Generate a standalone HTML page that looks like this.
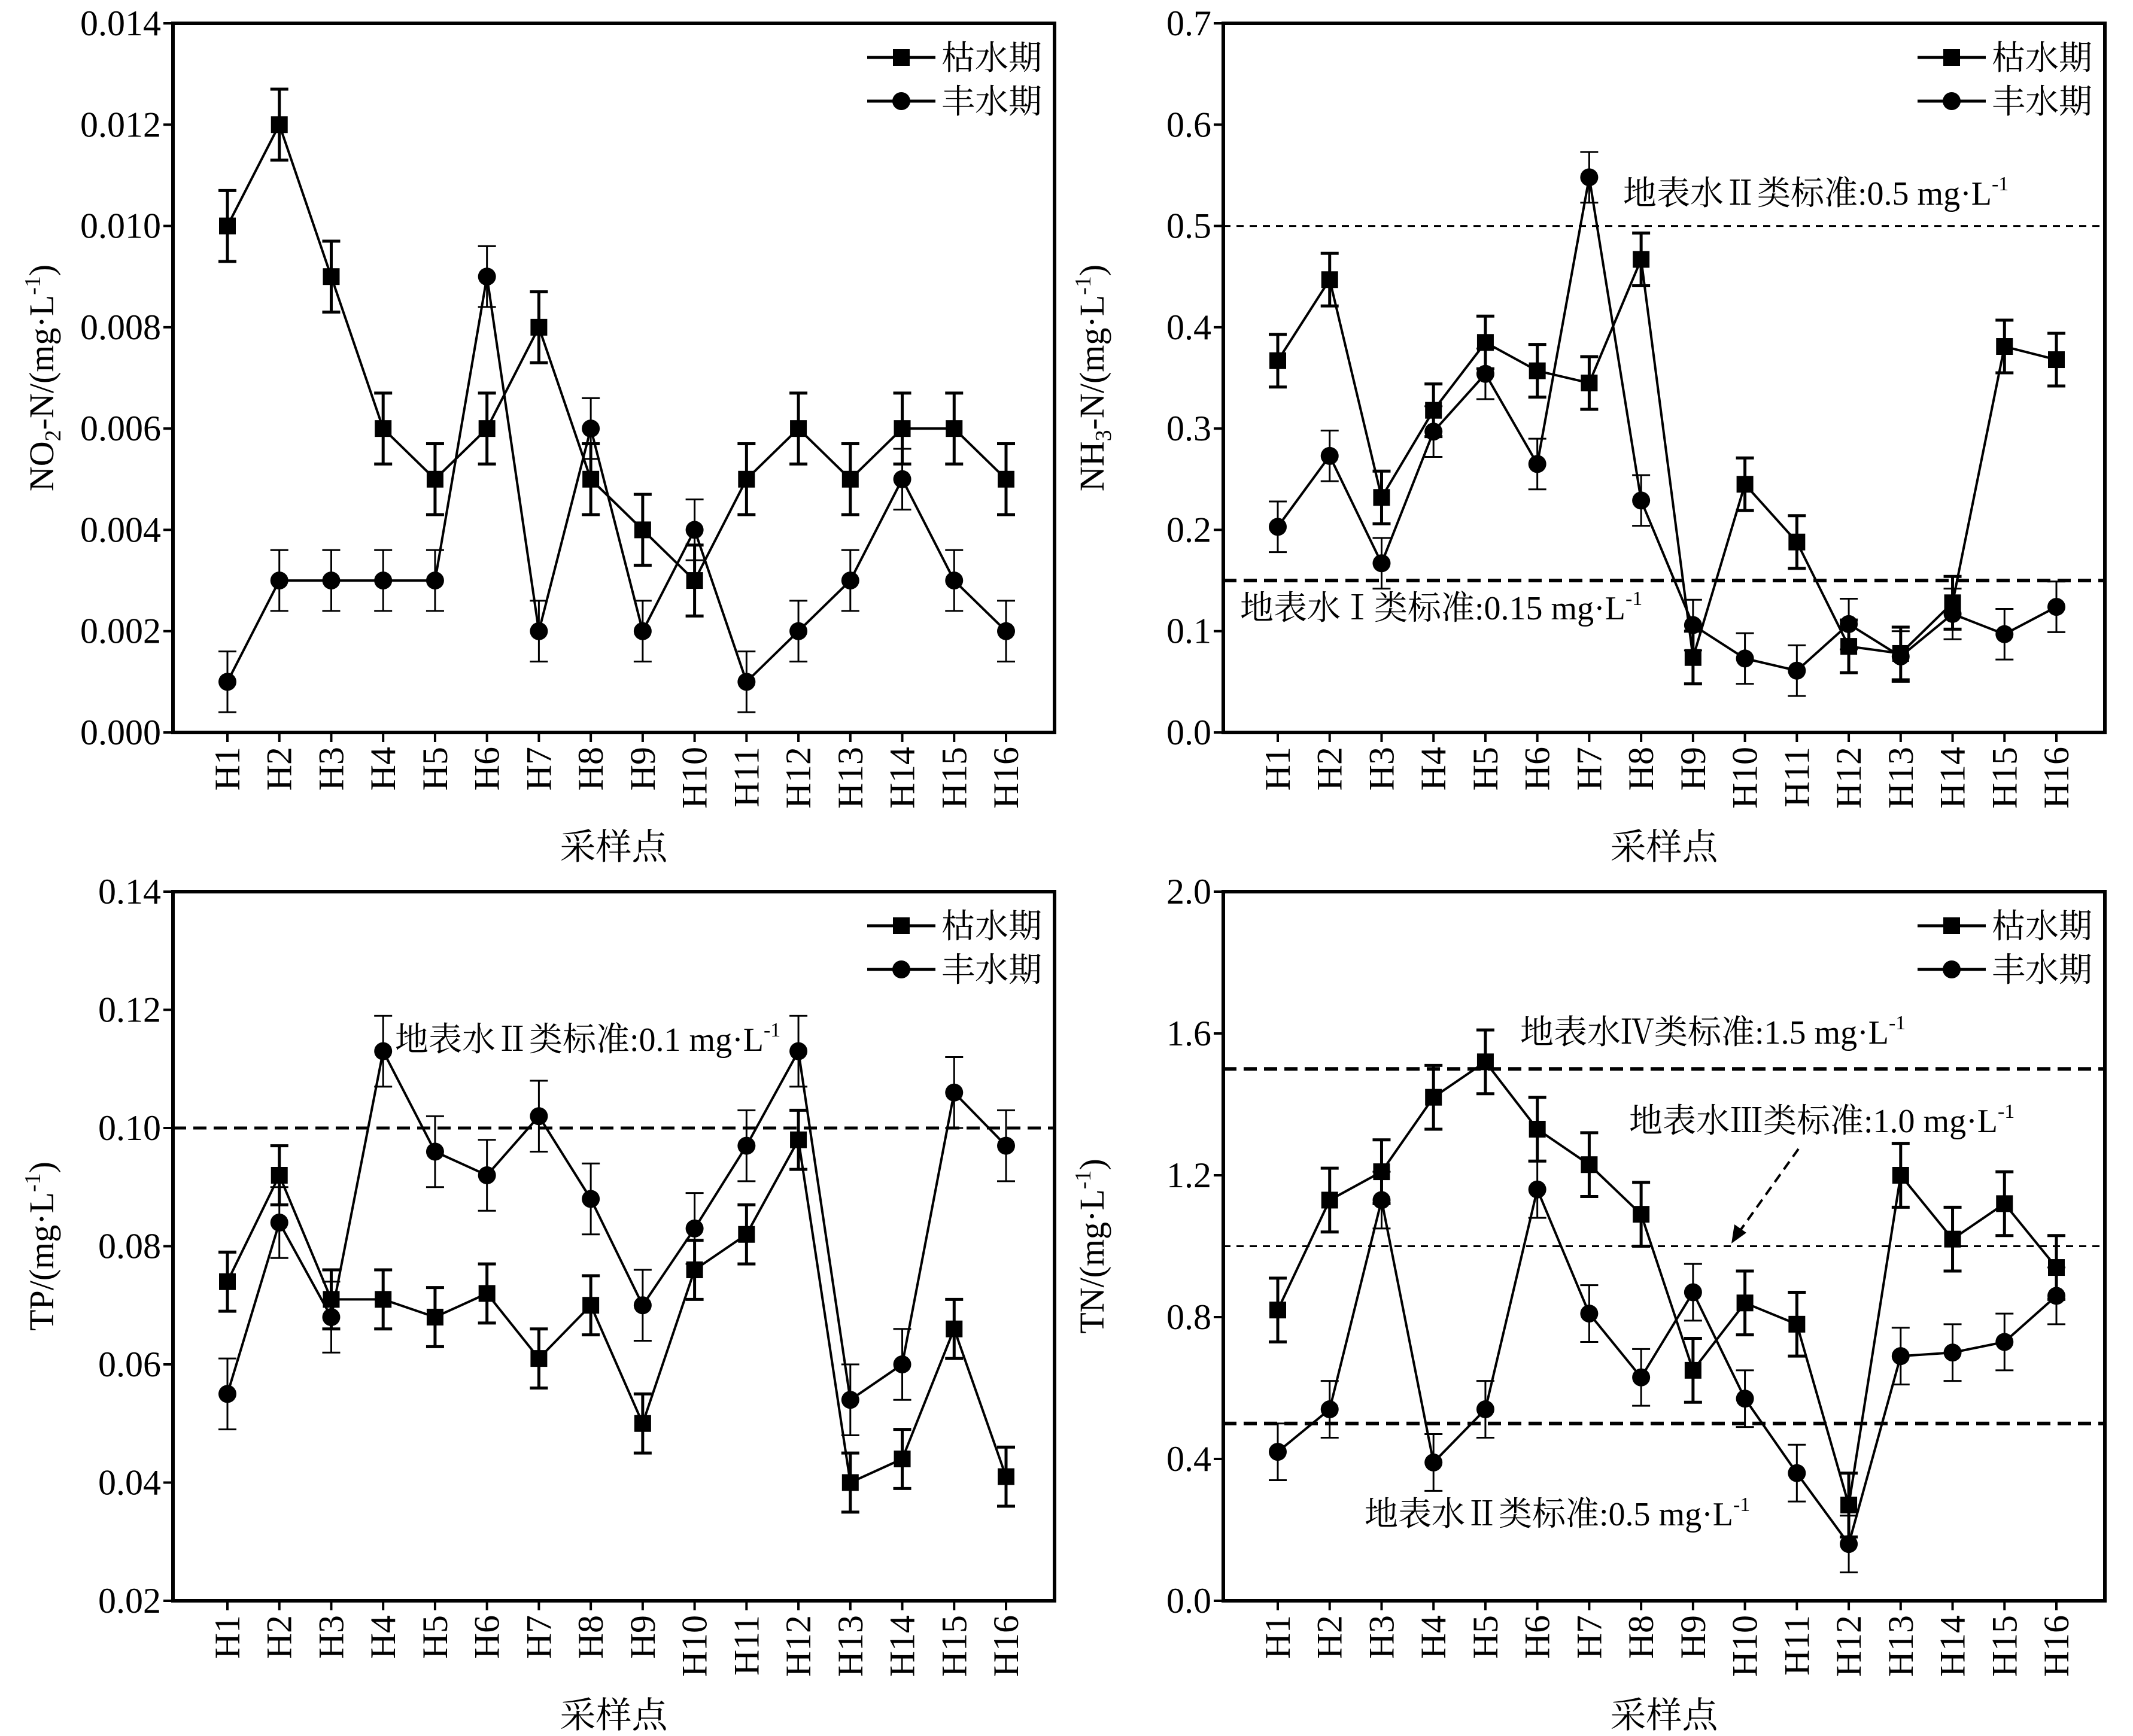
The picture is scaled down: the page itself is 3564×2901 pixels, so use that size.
<!DOCTYPE html>
<html><head><meta charset="utf-8"><style>
html,body{margin:0;padding:0;background:#fff}
svg text{font-family:"Liberation Serif","Noto Serif CJK SC",serif;fill:#000}
</style></head><body>
<svg id="c" width="3564" height="2896" viewBox="0 0 3564 2896" xmlns="http://www.w3.org/2000/svg"></svg>
<script>
const categories=["H1","H2","H3","H4","H5","H6","H7","H8","H9","H10","H11","H12","H13","H14","H15","H16"];
const no2Dry=[.010,.012,.009,.006,.005,.006,.008,.005,.004,.003,.005,.006,.005,.006,.006,.005];
const no2Wet=[.001,.003,.003,.003,.003,.009,.002,.006,.002,.004,.001,.002,.003,.005,.003,.002];
const no2Err=[.0007,.0006];
const nh3Dry=[.367,.447,.232,.318,.385,.357,.345,.467,.074,.245,.188,.085,.078,.128,.381,.368];
const nh3Wet=[.203,.273,.167,.297,.354,.265,.548,.229,.106,.073,.061,.107,.075,.117,.097,.124];
const nh3Err=[.026,.025];
const tpDry=[.074,.092,.071,.071,.068,.072,.061,.070,.050,.076,.082,.098,.040,.044,.066,.041];
const tpWet=[.055,.084,.068,.113,.096,.092,.102,.088,.070,.083,.097,.113,.054,.060,.106,.097];
const tpErr=[.005,.006];
const tnDry=[.82,1.13,1.21,1.42,1.52,1.33,1.23,1.09,.65,.84,.78,.27,1.20,1.02,1.12,.94];
const tnWet=[.42,.54,1.13,.39,.54,1.16,.81,.63,.87,.57,.36,.16,.69,.70,.73,.86];
const tnErr=[.09,.08];
const no2Ticks=[0,.002,.004,.006,.008,.010,.012,.014];
const nh3Ticks=[0,.1,.2,.3,.4,.5,.6,.7];
const tpTicks=[.02,.04,.06,.08,.10,.12,.14];
const tnTicks=[0,.4,.8,1.2,1.6,2.0];
const legendLabels=["枯水期","丰水期"];

const NS="http://www.w3.org/2000/svg";
const svg=document.getElementById('c');
function mk(tag,attrs,parent){const e=document.createElementNS(NS,tag);for(const k in attrs)e.setAttribute(k,attrs[k]);(parent||svg).appendChild(e);return e;}

const panels=[
 {id:'no2',L:289,T:39,dry:no2Dry,wet:no2Wet,err:no2Err,ticks:no2Ticks,dec:3,
  title:[["NO",0],["2",1],["-N/(mg·L",0],["-1",2],[")",0]],refs:[],labels:[]},
 {id:'nh3',L:2044,T:39,dry:nh3Dry,wet:nh3Wet,err:nh3Err,ticks:nh3Ticks,dec:1,
  title:[["NH",0],["3",1],["-N/(mg·L",0],["-1",2],[")",0]],
  refs:[[0.5,3,"12,10"],[0.15,6,"22,12"]],
  labels:[["地表水Ⅱ类标准:0.5 mg·L",2712,342],["地表水Ⅰ类标准:0.15 mg·L",2072,1035]]},
 {id:'tp',L:289,T:1490,dry:tpDry,wet:tpWet,err:tpErr,ticks:tpTicks,dec:2,
  title:[["TP/(mg·L",0],["-1",2],[")",0]],refs:[[0.1,5,"22,12"]],
  labels:[["地表水Ⅱ类标准:0.1 mg·L",660,1756]]},
 {id:'tn',L:2044,T:1490,dry:tnDry,wet:tnWet,err:tnErr,ticks:tnTicks,dec:1,
  title:[["TN/(mg·L",0],["-1",2],[")",0]],refs:[[1.5,6,"22,12"],[1.0,3,"12,10"],[0.5,6,"22,12"]],
  labels:[["地表水Ⅳ类标准:1.5 mg·L",2540,1744],["地表水Ⅲ类标准:1.0 mg·L",2722,1892],["地表水Ⅱ类标准:0.5 mg·L",2280,2549]],arrow:true}
];
const W=1473,H=1185;
panels.forEach(p=>{
 const g=mk('g',{});
 
 
 const ymin=p.ticks[0],ymax=p.ticks[p.ticks.length-1];
 const ys=v=>p.T+H-(v-ymin)/(ymax-ymin)*H;
 const xs=i=>p.L+91+i*(1301/15);
 p.refs.forEach(r=>{const l=mk('line',{x1:p.L,x2:p.L+W,y1:ys(r[0]),y2:ys(r[0]),stroke:'#000','stroke-width':r[1],'stroke-dasharray':r[2]},g);
  });
 p.labels.forEach(t=>{const e=mk('text',{x:t[1],y:t[2],'font-size':56},g);e.textContent=t[0];
  const s=mk('tspan',{'font-size':34,dy:-24},e);s.textContent='-1';
  });
 if(p.arrow){const a=mk('line',{x1:3005,y1:1920,x2:2905,y2:2060,stroke:'#000','stroke-width':4,'stroke-dasharray':'16,10'},g);
  
  mk('polygon',{points:'2893,2078 2898,2046 2918,2060',fill:'#000'},g);}
 const b=mk('rect',{x:p.L,y:p.T,width:W,height:H,fill:'none',stroke:'#000','stroke-width':6},g);
 
 p.ticks.forEach(v=>{const y=ys(v);mk('line',{x1:p.L-16,x2:p.L,y1:y,y2:y,stroke:'#000','stroke-width':4},g);
  const t=mk('text',{x:p.L-20,y:y+20,'font-size':60,'text-anchor':'end'},g);t.textContent=v.toFixed(p.dec);
  });
 categories.forEach((c,i)=>{const x=xs(i);mk('line',{x1:x,x2:x,y1:p.T+H,y2:p.T+H+16,stroke:'#000','stroke-width':4},g);
  const t=mk('text',{x:0,y:0,'font-size':60,'text-anchor':'end',transform:`translate(${x+20},${p.T+H+24}) rotate(-90)`},g);t.textContent=c;
  });
 const xt=mk('text',{x:p.L+W/2,y:p.T+H+212,'font-size':60,'text-anchor':'middle'},g);xt.textContent='采样点';
 
 const yt=mk('text',{x:0,y:0,'font-size':58,'text-anchor':'middle',transform:`translate(${p.L-200},${p.T+H/2}) rotate(-90)`},g);
 
 p.title.forEach(s=>{const ts=mk('tspan',{},yt);ts.textContent=s[0];
  if(s[1]==1){ts.setAttribute('font-size',38);ts.setAttribute('dy',12);}
  else if(s[1]==2){ts.setAttribute('font-size',38);ts.setAttribute('dy',-22);}
  else if(s[1]==0&&ts.previousSibling&&ts.previousSibling.getAttribute&&ts.previousSibling.getAttribute('dy')){ts.setAttribute('dy',-parseFloat(ts.previousSibling.getAttribute('dy')));}
 });
 [p.dry,p.wet].forEach((ser,si)=>{
  const e=p.err[si];
  const pts=ser.map((v,i)=>xs(i)+','+ys(v)).join(' ');
  const pl=mk('polyline',{points:pts,fill:'none',stroke:'#000','stroke-width':4},g);
  
  ser.forEach((v,i)=>{const x=xs(i);
   mk('path',{d:`M${x},${ys(v-e)}V${ys(v+e)}M${x-15},${ys(v+e)}h30M${x-15},${ys(v-e)}h30`,stroke:'#000','stroke-width':si?3:5,fill:'none'},g);
   let m;
   if(si==0)m=mk('rect',{x:x-14,y:ys(v)-14,width:28,height:28,fill:'#000'},g);
   else m=mk('circle',{cx:x,cy:ys(v),r:15,fill:'#000'},g);
   
  });
 });
 legendLabels.forEach((lab,k)=>{const y=p.T+57+k*73;const lx=p.L+1160;
  const lg=mk('g',{},g);
  mk('line',{x1:lx,x2:lx+114,y1:y,y2:y,stroke:'#000','stroke-width':5},lg);
  if(k==0)mk('rect',{x:lx+43,y:y-14,width:28,height:28,fill:'#000'},lg);else mk('circle',{cx:lx+57,cy:y,r:15,fill:'#000'},lg);
  const t=mk('text',{x:lx+124,y:y+20,'font-size':56},lg);t.textContent=lab;});
});
</script>
</body></html>
